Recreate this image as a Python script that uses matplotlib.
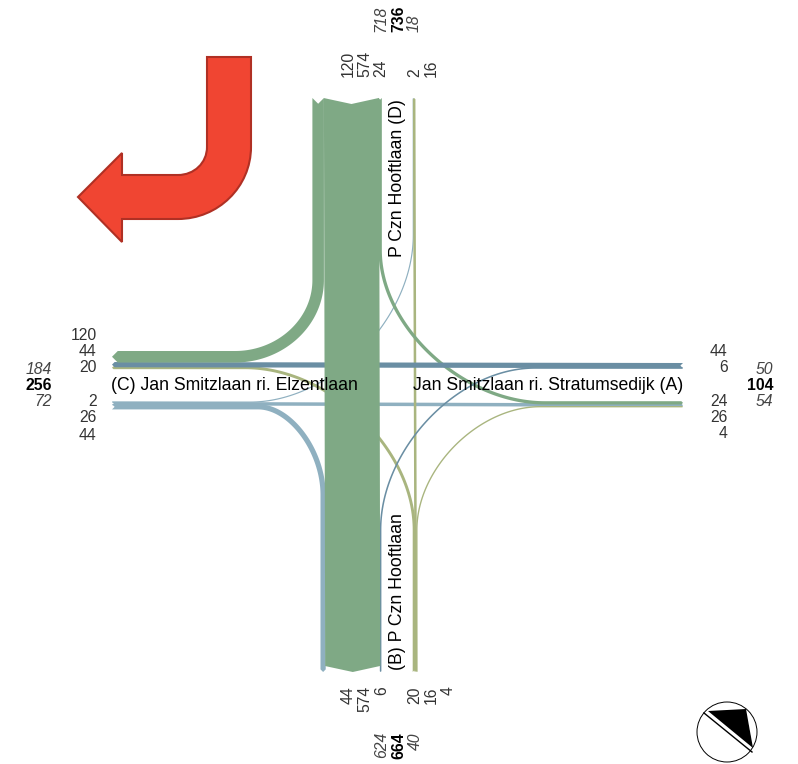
import numpy as np
import matplotlib
matplotlib.use("Agg")
import matplotlib.pyplot as plt
from matplotlib.path import Path
from matplotlib.patches import PathPatch, Polygon, Circle

plt.rcParams['font.family'] = ['Liberation Sans', 'DejaVu Sans']

# ---------------- DATA ----------------
# counts per arm, in the order they are stacked in each band
d_left = [120, 574, 24]
d_right = [2, 16]
d_totals = [718, 736, 18]
b_left = [44, 574, 6]
b_right = [20, 16, 4]
b_totals = [624, 664, 40]
c_upper = [120, 44, 20]
c_lower = [2, 26, 44]
c_totals = [184, 256, 72]
a_upper = [44, 6]
a_lower = [24, 26, 4]
a_totals = [50, 104, 54]

name_a = "Jan Smitzlaan ri. Stratumsedijk (A)"
name_b = "(B) P Czn Hooftlaan"
name_c = "(C) Jan Smitzlaan ri. Elzentlaan"
name_d = "P Czn Hooftlaan (D)"

# ---------------- STYLE ----------------
GREEN = "#7fa985"
STEEL = "#6a8ea3"
LIGHT = "#8fb0c0"
OLIVE = "#a9b57f"
SCALE = 0.096  # px per vehicle
FS = 11.3
NAME_FS = 12.7
NUM = "#333333"
TOTAL_GREY = "#444444"

TOP, BOTTOM, LEFT, RIGHT = 98, 672, 112, 683

fig = plt.figure(figsize=(7.98, 7.64), dpi=100)
ax = fig.add_axes([0, 0, 1, 1])
ax.set_xlim(0, 798)
ax.set_ylim(764, 0)
ax.axis("off")


def lanes(start, values):
    edges = start + np.concatenate([[0], np.cumsum(values)]) * SCALE
    return (edges[:-1] + edges[1:]) / 2


def centreline(p0, entry=None, leave=None, p1=None, k=0.5):
    p0 = np.array(p0, float)
    p1 = np.array(p1, float)
    if entry is None:
        return np.array([p0 + (p1 - p0) * t for t in np.linspace(0, 1, 30)])
    entry = np.array(entry, float)
    leave = np.array(leave, float)
    if p0[0] == entry[0]:
        corner = np.array([entry[0], leave[1]])
    else:
        corner = np.array([leave[0], entry[1]])
    c1 = entry + k * (corner - entry)
    c2 = leave + k * (corner - leave)
    t = np.linspace(0, 1, 80)[:, None]
    curve = (1 - t) ** 3 * entry + 3 * (1 - t) ** 2 * t * c1 + 3 * (1 - t) * t ** 2 * c2 + t ** 3 * leave
    return np.vstack([p0, curve, p1])


def draw_flow(value, colour, p0, p1, entry=None, leave=None, k=0.5, z=2):
    pts = centreline(p0, entry, leave, p1, k)
    # the thin flows read about a pixel wider than their count
    width = value * SCALE + 1.0 if value < 100 else value * SCALE
    depth = min(width / 2, 6)
    d = np.gradient(pts, axis=0)
    d = d / np.linalg.norm(d, axis=1)[:, None]
    n = np.column_stack([-d[:, 1], d[:, 0]])
    tip = pts[-1].copy()
    notch = pts[0] + d[0] * depth
    pts[-1] = tip - d[-1] * depth
    a = pts + n * width / 2
    b = pts - n * width / 2
    poly = np.vstack([a, tip, b[::-1], notch])
    ax.add_patch(Polygon(poly, closed=True, fc=colour, ec="none", zorder=z))


# ---------------- FLOWS ----------------
dl = lanes(312.4, d_left)
dr = lanes(413.2, d_right)
bl = lanes(321.0, b_left)
br = lanes(413.2, b_right)
cu = lanes(351.0, c_upper)
cl = lanes(402.0, c_lower)
au = lanes(363.5, a_upper)
al = lanes(401.7, a_lower)

# from C
draw_flow(c_lower[0], LIGHT, (LEFT, cl[0]), (dr[0], TOP), (250, cl[0]), (dr[0], 235), z=2)
draw_flow(c_lower[1], LIGHT, (LEFT, cl[1]), (RIGHT, al[1]), z=2)
draw_flow(c_lower[2], LIGHT, (LEFT, cl[2]), (bl[0], BOTTOM), (258, cl[2]), (bl[0], 495), z=3)
# from B
draw_flow(b_right[0], OLIVE, (br[0], BOTTOM), (LEFT, cu[2]), (br[0], 530), (245, cu[2]), z=2)
draw_flow(b_right[1], OLIVE, (br[1], BOTTOM), (dr[1], TOP), z=2)
draw_flow(b_right[2], OLIVE, (br[2], BOTTOM), (RIGHT, al[2]), (br[2], 530), (540, al[2]), z=2)
# from D
draw_flow(d_left[2], GREEN, (dl[2], TOP), (RIGHT, al[0]), (dl[2], 250), (545, al[0]), z=3)
draw_flow(d_left[0], GREEN, (dl[0], TOP), (LEFT, cu[0]), (dl[0], 280), (235, cu[0]), k=0.55, z=5)
# from A
draw_flow(a_upper[0], STEEL, (RIGHT, au[0]), (LEFT, cu[1]), z=4)
draw_flow(a_upper[1], STEEL, (RIGHT, au[1]), (bl[2], BOTTOM), (535, au[1]), (bl[2], 530), z=4)
# main through flow sits on top of everything
draw_flow(d_left[1], GREEN, (dl[1], TOP), (bl[1], BOTTOM), z=6)

# ---------------- TEXT ----------------
def num(x, y, s, **kw):
    opts = dict(fontsize=FS, color=NUM, zorder=10)
    opts.update(kw)
    ax.text(x, y, str(s), **opts)


for y, v in zip([336, 352, 368], c_upper):
    num(96.5, y, v, ha="right", va="center")
for y, v in zip([401, 418, 435], c_lower):
    num(96.5, y, v, ha="right", va="center")
for y, v in zip([352, 368], a_upper):
    num(727.5, y, v, ha="right", va="center")
for y, v in zip([401, 418, 434], a_lower):
    num(727.5, y, v, ha="right", va="center")

for x, v in zip([348, 365, 381], d_left):
    num(x, 77, v, rotation=90, ha="center", va="bottom")
for x, v in zip([415, 431], d_right):
    num(x, 77, v, rotation=90, ha="center", va="bottom")
for x, v in zip([348, 365, 382], b_left):
    num(x, 686, v, rotation=90, ha="center", va="top")
for x, v in zip([415, 431, 448], b_right):
    num(x, 686, v, rotation=90, ha="center", va="top")


def totals(vals, xs, ys, **kw):
    for i, (x, y, v) in enumerate(zip(xs, ys, vals)):
        if i == 1:
            num(x, y, v, fontweight="bold", color="black", **kw)
        else:
            num(x, y, v, fontstyle="italic", color=TOTAL_GREY, **kw)


totals(c_totals, [52, 52, 52], [369, 385, 402], ha="right", va="center")
totals(a_totals, [773, 773, 773], [369, 385, 402], ha="right", va="center")
totals(d_totals, [381, 398.5, 414], [32, 32, 32], rotation=90, ha="center", va="bottom")
totals(b_totals, [382, 398.5, 415], [732, 732, 732], rotation=90, ha="center", va="top")

ax.text(683, 385, name_a, fontsize=NAME_FS, ha="right", va="center", color="black", zorder=10)
ax.text(111, 385, name_c, fontsize=NAME_FS, ha="left", va="center", color="black", zorder=10)
ax.text(397, 257, name_d, fontsize=NAME_FS, rotation=90, ha="center", va="bottom", color="black", zorder=10)
ax.text(397, 670, name_b, fontsize=NAME_FS, rotation=90, ha="center", va="bottom", color="black", zorder=10)

# ---------------- TURN ARROW ----------------
arrow_pts = [(207, 57), (251, 57), (251, 147), (251, 187), (218, 219), (178, 219),
             (122, 219), (122, 242), (78, 197), (122, 153), (122, 175), (178, 175),
             (194, 175), (207, 163), (207, 147), (207, 57)]
arrow_codes = [Path.MOVETO, Path.LINETO, Path.LINETO, Path.CURVE4, Path.CURVE4, Path.CURVE4,
               Path.LINETO, Path.LINETO, Path.LINETO, Path.LINETO, Path.LINETO, Path.LINETO,
               Path.CURVE4, Path.CURVE4, Path.CURVE4, Path.CLOSEPOLY]
ax.add_patch(PathPatch(Path(arrow_pts, arrow_codes), fc="#f04532", ec="#b03024", lw=1.5, zorder=8))

# ---------------- COMPASS ----------------
ax.add_patch(Circle((727, 732), 30, fc="white", ec="black", lw=0.7, zorder=8))
ax.add_patch(Polygon([(708, 711), (746, 709), (753, 748)], closed=True, fc="black", ec="none", zorder=9))
ax.add_patch(Polygon([(747, 714), (753, 745), (750, 730)], closed=True, fc="white", ec="none", zorder=9))
ax.plot([704, 752], [713, 752], color="black", lw=1.0, zorder=9)

fig.savefig("out.png", dpi=100)
